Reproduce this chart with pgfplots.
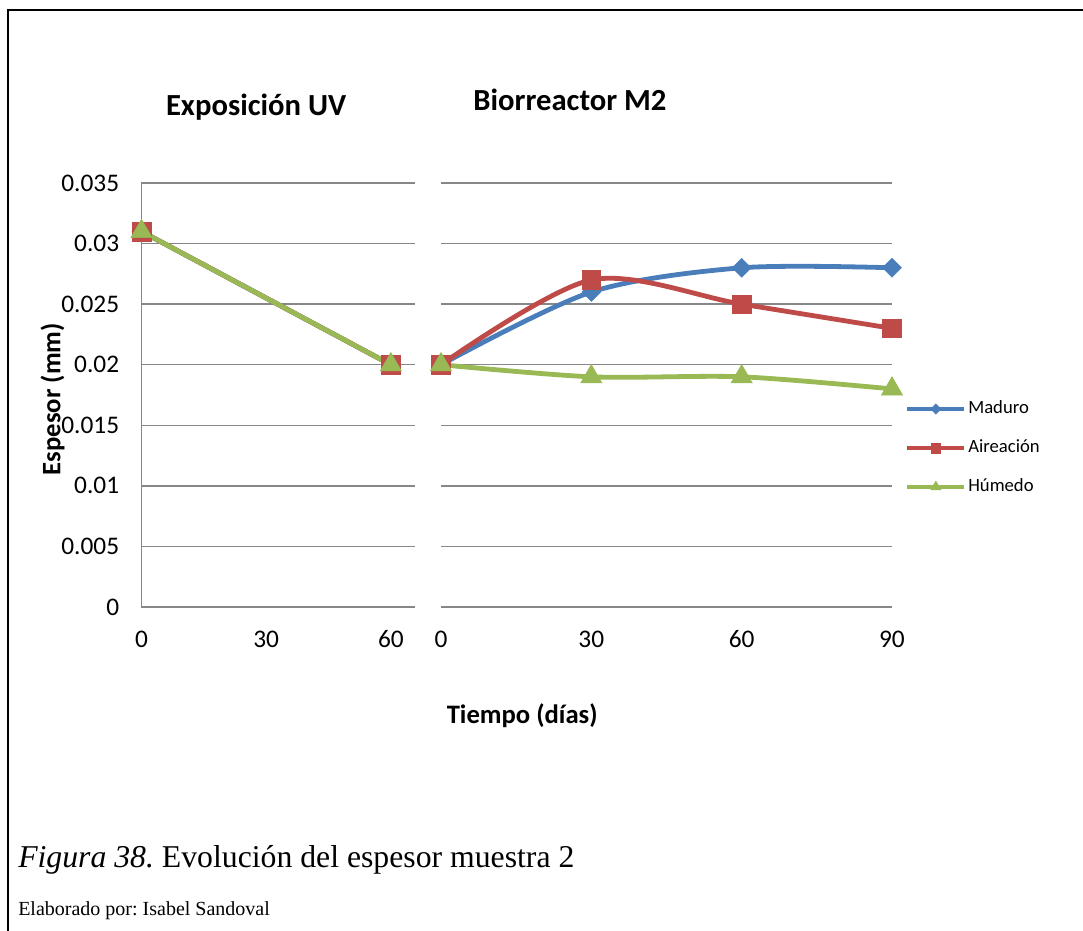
\documentclass[border=0pt]{standalone}
\usepackage{pgfplots}
\pgfplotsset{compat=1.18}
\usepackage{fontspec}
\setmainfont{Carlito}
\newfontfamily\timesf{Liberation Serif}

\definecolor{mblue}{HTML}{4A7EBB}
\definecolor{mred}{HTML}{BE4B48}
\definecolor{mgreen}{HTML}{98B954}
\definecolor{gridgray}{HTML}{878787}

% y-values in mm, x in days
\pgfplotstableread{
x  maduro aireacion humedo
0  0.031  0.031     0.031
60 0.020  0.020     0.020
}\uvdata
\pgfplotstableread{
x  maduro aireacion humedo
0  0.020  0.020     0.020
30 0.026  0.027     0.019
60 0.028  0.025     0.019
90 0.028  0.023     0.018
}\biodata

\pgfplotsset{
  espesor/.style={
    scale only axis, height=318pt,
    ymin=0, ymax=0.035,
    ytick={0,0.005,0.01,0.015,0.02,0.025,0.03,0.035},
    scaled y ticks=false,
    ymajorgrids, grid style={gridgray, line width=1.1pt},
    axis x line=bottom, axis y line=left,
    axis line style={-, gridgray, line width=1.1pt},
    major tick length=0pt,
    tick label style={font=\fontsize{19}{20}\selectfont, inner sep=0pt},
    /pgf/number format/assume math mode=true,
    xticklabel style={anchor=base, yshift=-30.6pt},
    clip=false,
    title style={font=\bfseries\fontsize{23}{26}\selectfont, anchor=center},
  },
  lmad/.style={mblue, line width=3.6pt, mark=square*, mark size=5pt,
    mark options={rotate=45, line width=0.4pt, fill=mblue}},
  lair/.style={mred, line width=3.6pt, mark=square*, mark size=7pt,
    mark options={line width=0.4pt, fill=mred}},
  lhum/.style={mgreen, line width=3.6pt, mark=triangle*, mark size=9.2pt,
    mark options={line width=0.4pt, fill=mgreen}},
}

\begin{document}
\begin{tikzpicture}
\path[use as bounding box] (0,0) rectangle (812.25pt,698.25pt);
\draw[line width=1.5pt] (6pt,0pt) -- (6pt,690.75pt) -- (815pt,690.75pt);

% left panel
\begin{axis}[espesor,
  at={(106.125pt,243pt)}, anchor=south west,
  width=205.1pt,
  xmin=0, xmax=65.8, xtick={0,30,60},
  yticklabels={0,0.005,0.01,0.015,0.02,0.025,0.03,0.035},
  yticklabel style={anchor=east, xshift=-16.6pt},
  title={Exposición UV},
  title style={at={(axis description cs:0.419,1.16)}},
  ylabel={Espesor (mm)},
  ylabel style={font=\bfseries\fontsize{20}{24}\selectfont,
    at={(axis description cs:-0.325,0.49)}, anchor=center},
]
\addplot[lmad] table[x=x, y=maduro] {\uvdata};
\addplot[lair] table[x=x, y=aireacion] {\uvdata};
\addplot[lhum] table[x=x, y=humedo] {\uvdata};
\end{axis}

% right panel
\begin{axis}[espesor,
  at={(330.75pt,243pt)}, anchor=south west,
  width=338.25pt,
  xmin=0, xmax=90, xtick={0,30,60,90},
  yticklabels={},
  y axis line style={draw=none},
  title={Biorreactor M2},
  title style={at={(axis description cs:0.286,1.177)}},
  xlabel={Tiempo (días)},
  xlabel style={font=\bfseries\fontsize{20}{24}\selectfont,
    at={(axis description cs:0.18,-0.257)}, anchor=center},
  legend image code/.code={\draw[mark repeat=2, mark phase=2, #1]
    plot coordinates {(0pt,0pt) (21.4pt,0pt) (42.75pt,0pt)};},
  legend style={at={(axis description cs:1.029,0.375)}, anchor=west,
    draw=none, fill=none, inner sep=0pt, row sep=13.25pt,
    font=\fontsize{14}{16}\selectfont,
    nodes={inner sep=1.5pt, text height=10pt, text depth=3pt}},
  legend cell align=left,
]
\addplot[lmad, smooth, forget plot] table[x=x, y=maduro] {\biodata};
\addplot[lair, smooth, forget plot] table[x=x, y=aireacion] {\biodata};
\addplot[lhum, smooth, forget plot] table[x=x, y=humedo] {\biodata};
\addlegendimage{mblue, line width=3pt, mark=square*, mark size=2.8pt,
  mark options={rotate=45, line width=0.3pt, fill=mblue}}
\addlegendentry{Maduro}
\addlegendimage{mred, line width=3pt, mark=square*, mark size=3.6pt,
  mark options={line width=0.3pt, fill=mred}}
\addlegendentry{Aireación}
\addlegendimage{mgreen, line width=3pt, mark=triangle*, mark size=4.5pt,
  mark options={line width=0.3pt, fill=mgreen}}
\addlegendentry{Húmedo}
\end{axis}

\node[anchor=base west, inner sep=0pt, font=\timesf\fontsize{23.8}{28}\selectfont]
  at (13.5pt,47.25pt) {\frenchspacing{\itshape Figura 38.} Evolución del espesor muestra 2};
\node[anchor=base west, inner sep=0pt, font=\timesf\fontsize{15}{18}\selectfont]
  at (13.5pt,11.25pt) {\frenchspacing Elaborado por: Isabel Sandoval};
\end{tikzpicture}
\end{document}
